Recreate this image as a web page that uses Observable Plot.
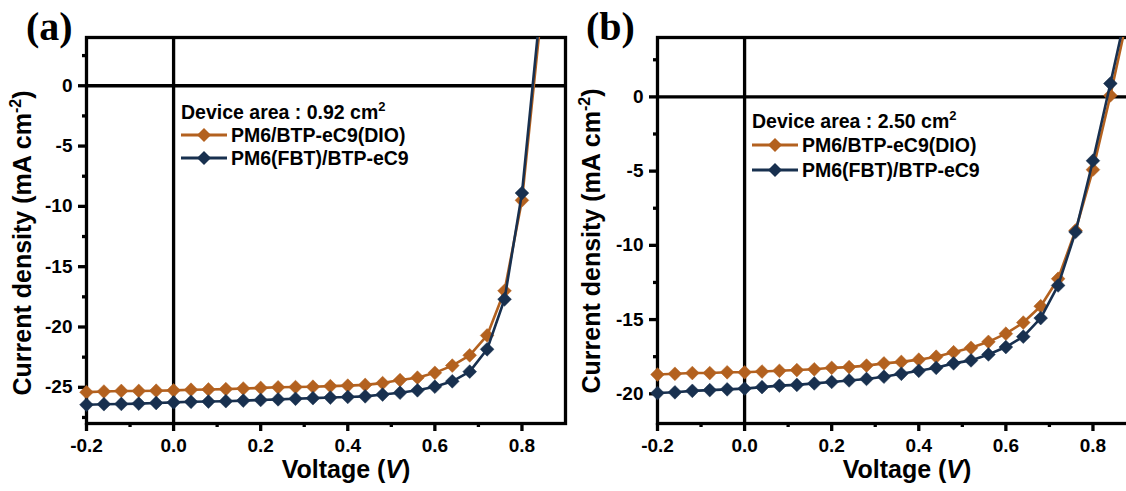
<!DOCTYPE html>
<html>
<head>
<meta charset="utf-8">
<script src="https://cdn.jsdelivr.net/npm/d3@7"></script>
<script src="https://cdn.jsdelivr.net/npm/@observablehq/plot@0.6"></script>
<style>
  html, body { margin: 0; padding: 0; background: #fff; overflow: hidden; }
  #wrap { position: relative; width: 1126px; height: 491px; overflow: hidden; background: #fff; }
  #wrap svg { position: absolute; top: 0; max-width: none; }
</style>
</head>
<body>
<div id="wrap"></div>
<script>
// Bias voltage steps (V), shared by both devices
const voltage = [-0.20, -0.16, -0.12, -0.08, -0.04, 0.00, 0.04, 0.08, 0.12, 0.16, 0.20, 0.24, 0.28, 0.32,
                 0.36, 0.40, 0.44, 0.48, 0.52, 0.56, 0.60, 0.64, 0.68, 0.72, 0.76, 0.80, 0.84, 0.88];

// (a) device area 0.92 cm2, current density in mA cm-2
const jDioA = [-25.40, -25.35, -25.30, -25.30, -25.28, -25.25, -25.20, -25.18, -25.15, -25.10, -25.05, -25.00, -24.98, -24.95,
               -24.90, -24.86, -24.80, -24.65, -24.40, -24.20, -23.80, -23.20, -22.35, -20.70, -17.00, -9.50, 4.5, 20.0];
const jFbtA = [-26.45, -26.40, -26.38, -26.35, -26.30, -26.25, -26.20, -26.18, -26.15, -26.10, -26.05, -26.00, -25.95, -25.90,
               -25.85, -25.80, -25.75, -25.60, -25.45, -25.25, -24.95, -24.50, -23.70, -21.85, -17.70, -8.90, 5.6, 21.0];

// (b) device area 2.50 cm2
const jDioB = [-18.70, -18.65, -18.60, -18.60, -18.55, -18.55, -18.50, -18.45, -18.40, -18.35, -18.25, -18.20, -18.10, -17.95,
               -17.85, -17.70, -17.50, -17.20, -16.90, -16.50, -15.95, -15.20, -14.10, -12.25, -9.00, -4.90, 0.10, 5.5];
const jFbtB = [-19.95, -19.90, -19.80, -19.75, -19.70, -19.65, -19.55, -19.45, -19.40, -19.30, -19.20, -19.10, -19.00, -18.85,
               -18.65, -18.45, -18.25, -17.95, -17.75, -17.35, -16.85, -16.15, -14.90, -12.70, -9.10, -4.30, 0.90, 6.2];

const seriesNames = ["PM6/BTP-eC9(DIO)", "PM6(FBT)/BTP-eC9"];
const seriesColors = ["#B3611F", "#18304F"];

const xMajor = [-0.2, 0.0, 0.2, 0.4, 0.6, 0.8];
const xMinor = [-0.1, 0.1, 0.3, 0.5, 0.7];
const yMajorA = [-25, -20, -15, -10, -5, 0];
const yMinorA = [-27.5, -22.5, -17.5, -12.5, -7.5, -2.5, 2.5];
const yMajorB = [-20, -15, -10, -5, 0];
const yMinorB = [-17.5, -12.5, -7.5, -2.5, 2.5];

const FONT = "'Liberation Sans', Arial, Helvetica, sans-serif";
const SERIF = "'Liberation Serif', 'Times New Roman', serif";
const AXIS_W = 3.3;

function drawPanel(cfg) {
  const yMax = cfg.yDomain[1];
  const seriesMarks = [];
  cfg.currents.forEach((arr, i) => {
    const rows = voltage.map((v, k) => ({v, j: arr[k]}));
    seriesMarks.push(
      Plot.line(rows, {x: "v", y: "j", stroke: seriesColors[i], strokeWidth: 2.6, clip: true}),
      Plot.dot(rows.filter(d => d.j <= yMax), {x: "v", y: "j", symbol: "diamond2", r: 6.2,
        fill: seriesColors[i], stroke: seriesColors[i], strokeWidth: 0.5})
    );
  });

  const svg = Plot.plot({
    width: 570,
    height: 491,
    marginTop: 37,
    marginBottom: 68,
    marginLeft: cfg.marginLeft,
    marginRight: cfg.marginRight,
    x: {domain: [-0.2, 0.9]},
    y: {domain: cfg.yDomain},
    style: {fontFamily: FONT, fontSize: "19px", fontWeight: "bold", color: "#000", background: "transparent", overflow: "visible"},
    marks: [
      Plot.ruleY([0], {stroke: "#000", strokeWidth: AXIS_W}),
      Plot.ruleX([0], {stroke: "#000", strokeWidth: AXIS_W}),
      Plot.axisX(xMajor, {tickSize: 8, tickPadding: 7, strokeWidth: AXIS_W, tickFormat: d => d.toFixed(1), label: null}),
      Plot.axisX(xMinor, {tickSize: 4, strokeWidth: AXIS_W, tickFormat: () => "", label: null}),
      Plot.axisY(cfg.yMajor, {tickSize: 8, tickPadding: 6, strokeWidth: AXIS_W, tickFormat: d => String(d), label: null}),
      Plot.axisY(cfg.yMinor, {tickSize: 4, strokeWidth: AXIS_W, tickFormat: () => "", label: null}),
      Plot.frame({stroke: "#000", strokeWidth: AXIS_W}),
      ...seriesMarks
    ]
  });
  svg.style.left = cfg.left + "px";

  const s = d3.select(svg);

  // Panel letter
  s.append("text")
    .attr("x", cfg.letterX).attr("y", 40)
    .attr("text-anchor", "start")
    .attr("font-family", SERIF).attr("font-weight", "bold").attr("font-size", 40)
    .attr("fill", "#000")
    .text(cfg.letter);

  // Axis titles
  const xt = s.append("text")
    .attr("x", cfg.xTitleX).attr("y", 478)
    .attr("text-anchor", "middle")
    .attr("font-family", FONT).attr("font-weight", "bold").attr("font-size", 25).attr("fill", "#000");
  xt.append("tspan").text("Voltage (");
  xt.append("tspan").attr("font-style", "italic").text("V");
  xt.append("tspan").text(")");

  const yt = s.append("text")
    .attr("transform", `translate(${cfg.yTitleX},${cfg.yTitleY}) rotate(-90)`)
    .attr("text-anchor", "middle")
    .attr("font-family", FONT).attr("font-weight", "bold").attr("font-size", 25).attr("fill", "#000");
  yt.append("tspan").text("Current density (mA cm");
  yt.append("tspan").attr("font-size", 16).attr("dy", -10).text("-2");
  yt.append("tspan").attr("dy", 10).text(")");

  // Legend
  const lg = s.append("g")
    .attr("text-anchor", "start")
    .attr("font-family", FONT).attr("font-weight", "bold").attr("font-size", 19.5).attr("fill", "#000");
  const lx = cfg.legendX;
  const dev = lg.append("text").attr("x", lx).attr("y", cfg.legendY[0] + 7);
  dev.append("tspan").text(`Device area : ${cfg.area} cm`);
  dev.append("tspan").attr("font-size", 13).attr("dy", -8).text("2");
  const diamond = d3.symbol(d3.symbolDiamond2, 125)();
  seriesNames.forEach((name, i) => {
    const cy = cfg.legendY[i + 1];
    lg.append("line")
      .attr("x1", lx).attr("x2", lx + 46).attr("y1", cy).attr("y2", cy)
      .attr("stroke", seriesColors[i]).attr("stroke-width", 3);
    lg.append("path")
      .attr("d", diamond).attr("transform", `translate(${lx + 23},${cy})`)
      .attr("fill", seriesColors[i]);
    lg.append("text").attr("x", lx + 50).attr("y", cy + 7).text(name);
  });

  document.getElementById("wrap").appendChild(svg);
}

drawPanel({
  left: 0, letter: "(a)", letterX: 26, area: "0.92",
  currents: [jDioA, jFbtA],
  yDomain: [-28, 4], yMajor: yMajorA, yMinor: yMinorA,
  marginLeft: 86, marginRight: 5,
  xTitleX: 346, yTitleX: 31, yTitleY: 243,
  legendX: 181, legendY: [112, 135, 158]
});

drawPanel({
  left: 570, letter: "(b)", letterX: 16, area: "2.50",
  currents: [jDioB, jFbtB],
  yDomain: [-22, 4], yMajor: yMajorB, yMinor: yMinorB,
  marginLeft: 87, marginRight: 4,
  xTitleX: 337, yTitleX: 30, yTitleY: 241,
  legendX: 182, legendY: [121, 145, 170]
});
</script>
</body>
</html>
